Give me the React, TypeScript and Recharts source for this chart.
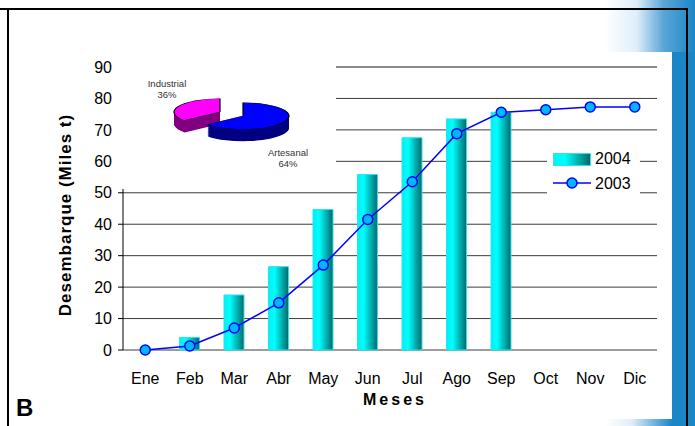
import React from "react";
import {
  ComposedChart,
  Bar,
  Line,
  XAxis,
  YAxis,
  CartesianGrid,
  ReferenceLine,
  PieChart,
  Pie,
  Cell,
} from "recharts";

const FONT = "'Liberation Sans', Arial, sans-serif";

// monthly landings, cumulative (thousand t)
const months = ["Ene", "Feb", "Mar", "Abr", "May", "Jun", "Jul", "Ago", "Sep", "Oct", "Nov", "Dic"];
const landings2004 = [null, 4, 17.5, 26.5, 44.7, 55.8, 67.5, 73.5, 75.6, null, null, null];
const landings2003 = [0, 1.3, 7, 15, 27, 41.5, 53.5, 68.8, 75.6, 76.4, 77.3, 77.3];
const seriesNames = ["2004", "2003"];
const yTicks = [0, 10, 20, 30, 40, 50, 60, 70, 80, 90];
const monthEdges = [0, 1, 2, 3, 4, 5, 6, 7, 8, 9, 10, 11, 12];

// inset pie
const sectorNames = ["Industrial", "Artesanal"];
const sectorShares = [36, 64];
const sectorTop = ["#ff00ff", "#0000ff"];
const sectorSide = ["#800080", "#000080"];

const data = months.map((m, i) => ({
  month: m,
  y2004: landings2004[i],
  y2003: landings2003[i],
}));
const pieData = sectorNames.map((name, i) => ({ name, value: sectorShares[i] }));

const SQUASH = 0.29;
const DEPTH = 41;

function LegendBox() {
  return (
    <div
      style={{
        position: "absolute",
        left: 547,
        top: 143,
        background: "#fff",
        width: 93,
        height: 56,
        fontFamily: FONT,
        fontSize: 16,
        color: "#000",
      }}
    >
      <div style={{ display: "flex", alignItems: "center", height: 24, paddingTop: 4 }}>
        <div
          style={{
            width: 36,
            height: 11,
            marginLeft: 6,
            marginRight: 4,
            border: "1px solid #33dff0",
            background: "linear-gradient(90deg,#00f4f4 0%,#00ffff 30%,#006a6a 100%)",
          }}
        />
        <span>{seriesNames[0]}</span>
      </div>
      <svg width={93} height={22} style={{ position: "absolute", left: 0, top: 29 }}>
        <line x1={6} x2={44} y1={11} y2={11} stroke="#0000ff" strokeWidth={1.5} />
        <circle cx={25} cy={11} r={5} fill="#00b8ff" stroke="#0000ff" strokeWidth={1.5} />
        <text x={48} y={17} fontFamily={FONT} fontSize={16} fill="#000">
          {seriesNames[1]}
        </text>
      </svg>
    </div>
  );
}

function SlicedPie() {
  const centers = [
    { cx: 104, cy: 52 / SQUASH },
    { cx: 127, cy: 56 / SQUASH },
  ];
  const pies: React.ReactElement[] = [];
  centers.forEach((c, idx) => {
    for (let d = DEPTH; d > 0; d -= 2) {
      pies.push(
        <Pie
          key={`s${idx}-${d}`}
          data={pieData}
          dataKey="value"
          cx={c.cx}
          cy={c.cy + d}
          startAngle={90}
          endAngle={450}
          outerRadius={46}
          isAnimationActive={false}
          stroke={d === DEPTH ? "#000" : "none"}
          strokeWidth={1.2}
        >
          {pieData.map((p, i) => (
            <Cell key={p.name} fill={i === idx ? sectorSide[i] : "transparent"} stroke={i === idx ? undefined : "none"} />
          ))}
        </Pie>
      );
    }
    pies.push(
      <Pie
        key={`t${idx}`}
        data={pieData}
        dataKey="value"
        cx={c.cx}
        cy={c.cy}
        startAngle={90}
        endAngle={450}
        outerRadius={46}
        isAnimationActive={false}
        stroke="#000"
        strokeWidth={1.2}
      >
        {pieData.map((p, i) => (
          <Cell key={p.name} fill={i === idx ? sectorTop[i] : "transparent"} stroke={i === idx ? "#000" : "none"} />
        ))}
      </Pie>
    );
  });
  return (
    <div
      style={{
        position: "absolute",
        left: 0,
        top: 0,
        width: 220,
        height: 129 / SQUASH,
        transform: `scaleY(${SQUASH})`,
        transformOrigin: "0 0",
      }}
    >
      <PieChart width={220} height={Math.round(129 / SQUASH)} margin={{ top: 0, right: 0, bottom: 0, left: 0 }}>
        {pies}
      </PieChart>
    </div>
  );
}

const pieLabelPos = [
  { left: 167, top: 78 },
  { left: 288, top: 147 },
];

export default function App() {
  return (
    <div style={{ position: "absolute", left: 0, top: 0, width: 695, height: 426, background: "#fff", overflow: "hidden", fontFamily: FONT }}>
      {/* right decoration */}
      <div style={{ position: "absolute", left: 605, top: 0, width: 90, height: 52, background: "linear-gradient(90deg,#ffffff 0%,#dfeefa 35%,#5aa6d6 65%,#1a86c6 100%)" }} />
      <div style={{ position: "absolute", left: 672, top: 52, width: 23, height: 374, background: "#1a86c6" }} />
      <div style={{ position: "absolute", left: 605, top: 419, width: 67, height: 7, background: "linear-gradient(90deg,#ffffff 0%,#dfeefa 40%,#1a86c6 100%)" }} />
      {/* frame */}
      <div style={{ position: "absolute", left: 0, top: 8, width: 688, height: 2, background: "#000" }} />
      <div style={{ position: "absolute", left: 7, top: 8, width: 2, height: 418, background: "#000" }} />
      <div style={{ position: "absolute", left: 686, top: 8, width: 2, height: 418, background: "#000" }} />

      <div style={{ position: "absolute", left: 0, top: 0 }}>
        <ComposedChart width={695} height={426} data={data} margin={{ top: 67, right: 38, left: 63, bottom: 46 }}>
          <defs>
            <linearGradient id="barGrad" x1="0" y1="0" x2="1" y2="0">
              <stop offset="0%" stopColor="#00f0f0" />
              <stop offset="30%" stopColor="#00ffff" />
              <stop offset="100%" stopColor="#006a6a" />
            </linearGradient>
          </defs>
          <CartesianGrid vertical={false} stroke="#3c3c3c" xAxisId="m" />
          <XAxis
            xAxisId="t"
            type="number"
            domain={[0, 12]}
            ticks={monthEdges}
            height={0}
            tickSize={6}
            tickFormatter={() => ""}
            tickLine={{ stroke: "#000" }}
            axisLine={{ stroke: "#7a7a7a", strokeWidth: 2 }}
            allowDataOverflow
          />
          <XAxis
            xAxisId="m"
            dataKey="month"
            height={30}
            axisLine={false}
            tickLine={false}
            tickMargin={17}
            tick={{ fontSize: 16, fill: "#000", fontFamily: FONT }}
            interval={0}
          />
          <YAxis
            domain={[0, 90]}
            ticks={yTicks}
            width={60}
            tickSize={5}
            tickMargin={6}
            axisLine={{ stroke: "#000" }}
            tickLine={{ stroke: "#000" }}
            tick={{ fontSize: 16, fill: "#000", fontFamily: FONT }}
            interval={0}
          />
          <ReferenceLine y={90} xAxisId="m" stroke="#8a8a8a" strokeWidth={2} />
          <ReferenceLine x={12} xAxisId="t" stroke="#8a8a8a" strokeWidth={2} />
          <Bar
            xAxisId="m"
            dataKey="y2004"
            name={seriesNames[0]}
            barSize={20}
            fill="url(#barGrad)"
            stroke="#33dff0"
            strokeWidth={1}
            isAnimationActive={false}
          />
          <Line
            xAxisId="m"
            dataKey="y2003"
            name={seriesNames[1]}
            type="linear"
            stroke="#0000ff"
            strokeWidth={1.5}
            dot={{ r: 5, fill: "#00b8ff", stroke: "#0000ff", strokeWidth: 1.5 }}
            isAnimationActive={false}
          />
        </ComposedChart>
      </div>

      <LegendBox />

      {/* inset pie panel */}
      <div style={{ position: "absolute", left: 116, top: 60, width: 220, height: 129, background: "#fff" }}>
        <SlicedPie />
      </div>
      {sectorNames.map((name, i) => (
        <div
          key={name}
          style={{
            position: "absolute",
            left: pieLabelPos[i].left - 30,
            top: pieLabelPos[i].top,
            width: 60,
            textAlign: "center",
            fontSize: 9.5,
            lineHeight: "11px",
            color: "#333",
          }}
        >
          {name}
          <br />
          {sectorShares[i]}%
        </div>
      ))}

      {/* titles */}
      <div
        style={{
          position: "absolute",
          left: 66,
          top: 215,
          transform: "translate(-50%,-50%) rotate(-90deg)",
          whiteSpace: "nowrap",
          fontWeight: "bold",
          fontSize: 17,
          letterSpacing: 1,
          color: "#000",
        }}
      >
        Desembarque (Miles t)
      </div>
      <div style={{ position: "absolute", left: 395, top: 400, transform: "translate(-50%,-50%)", fontWeight: "bold", fontSize: 16, letterSpacing: 3, color: "#000" }}>
        Meses
      </div>
      <div style={{ position: "absolute", left: 16, top: 394, fontWeight: "bold", fontSize: 24, color: "#000" }}>B</div>
    </div>
  );
}
